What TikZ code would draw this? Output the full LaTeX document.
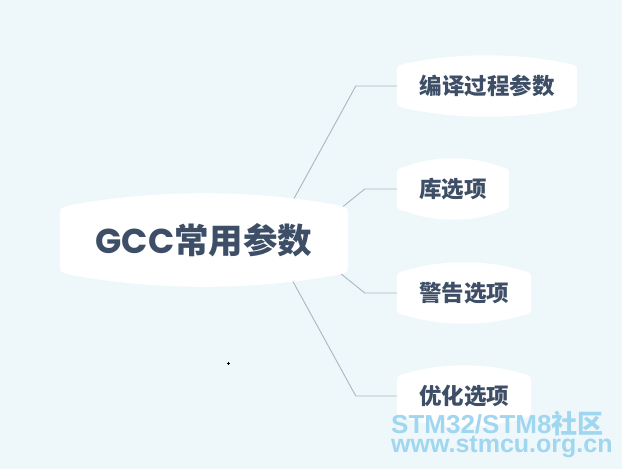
\documentclass[tikz,border=0pt]{standalone}
\usepackage{fontspec}
\usetikzlibrary{calc,backgrounds}
\newfontfamily\pop{Poppins}
\newfontfamily\cjk{Noto Sans CJK SC}
\newfontfamily\lib{Liberation Sans}
\definecolor{bgc}{RGB}{238,247,250}
\definecolor{textc}{RGB}{61,78,102}
\definecolor{linec}{RGB}{168,183,198}
\definecolor{wmc}{RGB}{160,214,239}
\tikzset{
  rootbox/.style={minimum width=288pt, minimum height=64pt, inner sep=0pt, text=textc},
  childbox/.style={minimum height=40pt, inner sep=0pt, text=textc, font=\cjk\bfseries\fontsize{22.5}{26}\selectfont},
  link/.style={draw=linec, line width=0.9pt},
  wmtext/.style={inner sep=0pt, text=wmc, align=left}
}
\newcommand\bgshape[3]{%
\fill[white] let \p1=(#1.north west), \p2=(#1.south east) in
 (\x1,\y2+#3pt) -- (\x1,\y1-#3pt)
 .. controls (\x1,\y1) .. (\x1+#3pt,\y1+0.25*#3pt)
 .. controls (\x1*0.67+\x2*0.33,\y1+1.33*#2pt) and (\x1*0.33+\x2*0.67,\y1+1.33*#2pt) .. (\x2-#3pt,\y1+0.25*#3pt)
 .. controls (\x2,\y1) .. (\x2,\y1-#3pt)
 -- (\x2,\y2+#3pt)
 .. controls (\x2,\y2) .. (\x2-#3pt,\y2-0.25*#3pt)
 .. controls (\x1*0.33+\x2*0.67,\y2-1.33*#2pt) and (\x1*0.67+\x2*0.33,\y2-1.33*#2pt) .. (\x1+#3pt,\y2-0.25*#3pt)
 .. controls (\x1,\y2) .. cycle;}
\begin{document}
\begin{tikzpicture}[x=1pt,y=-1pt]
\useasboundingbox (0,0) rectangle (622,469);
% nodes
\node[rootbox] (root) at (204,240) {\fontsize{34.5}{40}\selectfont{\pop\bfseries GCC}{\cjk\bfseries 常用参数}};
\node[childbox, minimum width=180pt] (n1) at (487,86) {编译过程参数};
\node[childbox, minimum width=112pt] (n2) at (453,189) {库选项};
\node[childbox, minimum width=134pt] (n3) at (464,293) {警告选项};
\node[childbox, minimum width=134pt] (n4) at (464,396) {优化选项};
% connector points
\coordinate (r1) at ($(root.center)+(81,-25)$);
\coordinate (r2) at ($(root.center)+(126,-23)$);
\coordinate (r3) at ($(root.center)+(126,25)$);
\coordinate (r4) at ($(root.center)+(81,27)$);
\coordinate (e1) at ($(n1.west)+(-41,0)$);
\coordinate (e2) at ($(n2.west)+(-32,0)$);
\coordinate (e3) at ($(n3.west)+(-32,0)$);
\coordinate (e4) at ($(n4.west)+(-41,0)$);
\begin{scope}[on background layer]
  \fill[bgc] (0,0) rectangle (622,469);
  \draw[link] (r1) -- (e1) -- (n1.west);
  \draw[link] (r2) -- (e2) -- (n2.west);
  \draw[link] (r3) -- (e3) -- (n3.west);
  \draw[link] (r4) -- (e4) -- (n4.west);
  \bgshape{root}{14}{10}
  \bgshape{n1}{10}{9}
  \bgshape{n2}{10}{9}
  \bgshape{n3}{10}{9}
  \bgshape{n4}{10}{9}
\end{scope}
% small mark
\draw[line width=0.6pt] (226.5,363) -- (229.5,363) (228,361.5) -- (228,364.5);
% watermark
\node[wmtext, anchor=north west, font=\lib\bfseries] (wm) at (391,411)
  {{\fontsize{26}{20}\selectfont STM32/STM8{\cjk\bfseries 社区}}\\[-1pt]{\fontsize{25}{20}\selectfont www.stmcu.org.cn}};
\end{tikzpicture}
\end{document}
